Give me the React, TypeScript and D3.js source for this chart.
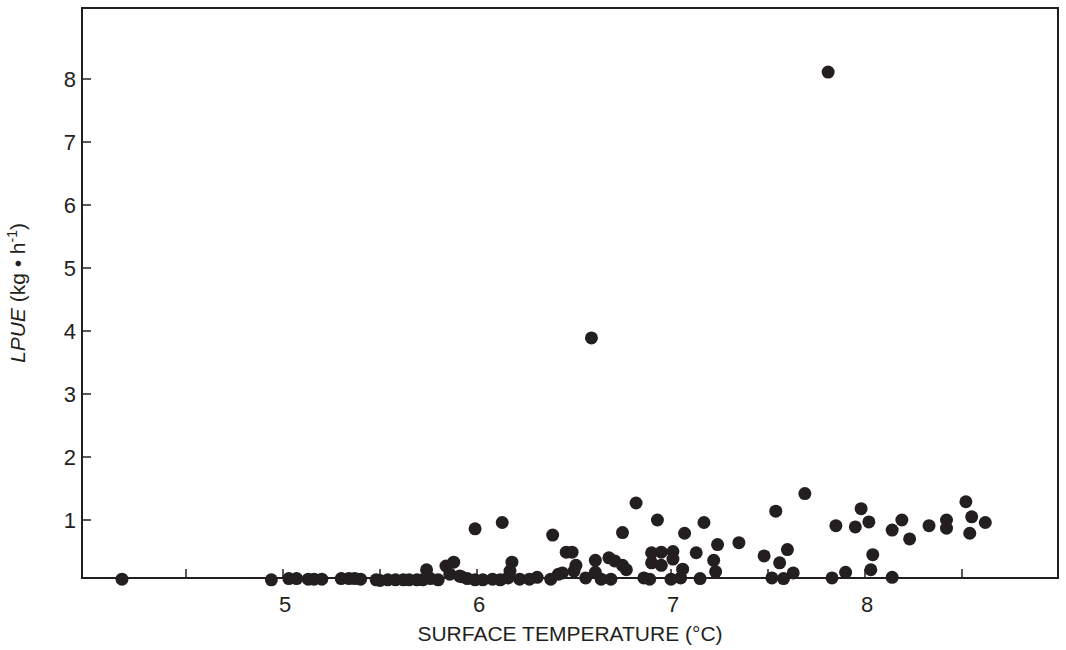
import React from 'react'
import * as d3 from 'd3'

// surface temperature (°C)
const temps = [
  4.17, 4.94, 5.03, 5.07, 5.13, 5.16, 5.20, 5.30, 5.34, 5.37, 5.40, 5.48, 5.50, 5.54, 5.58, 5.62,
  5.65, 5.69, 5.72, 5.74, 5.76, 5.80, 5.84, 5.86, 5.88, 5.91, 5.92, 5.95, 5.99, 5.99, 6.03, 6.08,
  6.12, 6.13, 6.16, 6.18, 6.17, 6.22, 6.27, 6.31, 6.38, 6.39, 6.42, 6.44, 6.46, 6.49, 6.50, 6.51,
  6.56, 6.59, 6.61, 6.61, 6.64, 6.68, 6.69, 6.71, 6.75, 6.75, 6.77, 6.82, 6.86, 6.89, 6.90, 6.90,
  6.93, 6.95, 6.95, 7.00, 7.01, 7.01, 7.05, 7.06, 7.07, 7.13, 7.15, 7.17, 7.22, 7.23, 7.24, 7.35,
  7.48, 7.52, 7.54, 7.56, 7.58, 7.60, 7.63, 7.69, 7.81, 7.83, 7.85, 7.90, 7.95, 7.98, 8.02, 8.03,
  8.04, 8.14, 8.14, 8.19, 8.23, 8.33, 8.42, 8.42, 8.52, 8.55, 8.54, 8.62,
]

// LPUE (kg per hour)
const lpue = [
  0.06, 0.05, 0.07, 0.07, 0.06, 0.06, 0.06, 0.07, 0.07, 0.07, 0.06, 0.05, 0.04, 0.05, 0.05, 0.05,
  0.05, 0.05, 0.05, 0.21, 0.07, 0.05, 0.27, 0.14, 0.33, 0.11, 0.10, 0.07, 0.86, 0.05, 0.05, 0.06,
  0.05, 0.96, 0.08, 0.33, 0.19, 0.06, 0.06, 0.09, 0.06, 0.76, 0.14, 0.16, 0.49, 0.49, 0.19, 0.28,
  0.08, 3.89, 0.36, 0.17, 0.06, 0.40, 0.06, 0.35, 0.80, 0.28, 0.21, 1.27, 0.08, 0.06, 0.48, 0.32,
  1.00, 0.49, 0.28, 0.06, 0.50, 0.38, 0.08, 0.22, 0.79, 0.48, 0.07, 0.96, 0.36, 0.18, 0.61, 0.64,
  0.43, 0.08, 1.14, 0.32, 0.07, 0.53, 0.16, 1.42, 8.11, 0.08, 0.91, 0.17, 0.89, 1.18, 0.97, 0.21,
  0.45, 0.09, 0.84, 1.00, 0.70, 0.91, 1.00, 0.87, 1.29, 1.05, 0.79, 0.96,
]

const xTicks = [4.5, 5, 5.5, 6, 6.5, 7, 7.5, 8, 8.5]
const xLabels = [5, 6, 7, 8]
const yTicks = [1, 2, 3, 4, 5, 6, 7, 8]

const W = 1066
const H = 650
const left = 82
const right = 1058
const top = 8
const bottom = 578

export default function App() {
  const x = d3.scaleLinear().domain([5, 8]).range([283, 865])
  const y = d3.scaleLinear().domain([0, 9.127]).range([583, 8])
  const font = 'Liberation Sans, Arial, Helvetica, sans-serif'
  const ink = '#231f20'

  const points = temps.map((t, i) => ({ t, v: lpue[i] }))

  return (
    <svg width={W} height={H} style={{ position: 'absolute', left: 0, top: 0 }} fontFamily={font}>
      <rect x={0} y={0} width={W} height={H} fill="#fff" />

      {/* ticks, pointing inward */}
      {xTicks.map((t) => (
        <line key={'xt' + t} x1={x(t)} x2={x(t)} y1={bottom} y2={bottom - 9} stroke={ink} strokeWidth={1.5} />
      ))}
      {yTicks.map((t) => (
        <line key={'yt' + t} x1={left} x2={left + 9} y1={y(t)} y2={y(t)} stroke={ink} strokeWidth={1.5} />
      ))}

      {/* tick labels */}
      {xLabels.map((t) => (
        <text key={'xl' + t} x={x(t) + 2} y={612} textAnchor="middle" fontSize={22} fill={ink}>{t}</text>
      ))}
      {yTicks.map((t) => (
        <text key={'yl' + t} x={76} y={y(t) + 8} textAnchor="end" fontSize={22} fill={ink}>{t}</text>
      ))}

      {/* points */}
      {points.map((d, i) => (
        <circle key={i} cx={x(d.t)} cy={y(d.v)} r={6.5} fill={ink} />
      ))}

      {/* frame */}
      <rect x={left} y={top} width={right - left} height={bottom - top} fill="none" stroke={ink} strokeWidth={2} />

      {/* axis titles */}
      <text x={570} y={641} textAnchor="middle" fontSize={21} fill={ink}>SURFACE TEMPERATURE (°C)</text>
      <text transform="translate(25,293) rotate(-90)" textAnchor="middle" fontSize={21} fill={ink}>
        <tspan fontStyle="italic">LPUE</tspan>
        <tspan> (kg • h</tspan>
        <tspan fontSize={14} dy={-8}>-1</tspan>
        <tspan dy={8}>)</tspan>
      </text>
    </svg>
  )
}
